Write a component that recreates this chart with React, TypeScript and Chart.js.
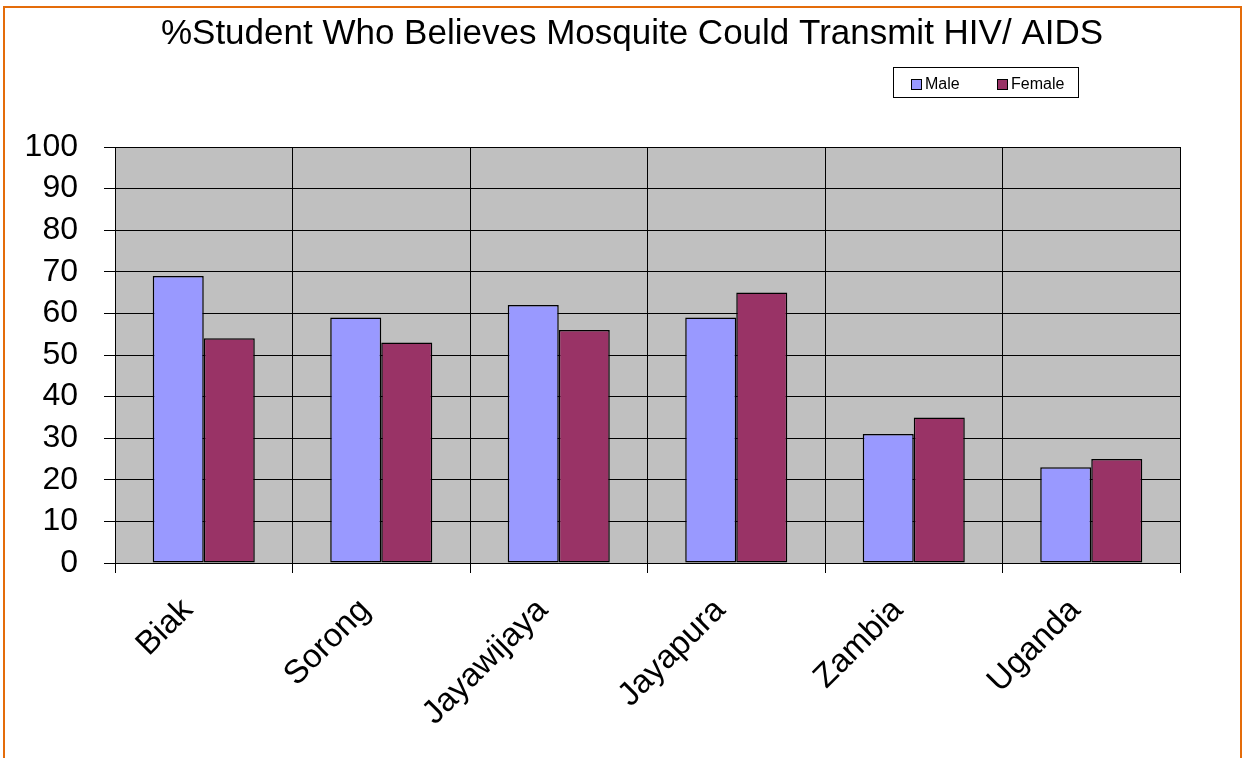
import React, { useEffect, useRef } from "react";
import { Chart, registerables } from "chart.js";

Chart.register(...registerables);

const titleText = "%Student Who Believes Mosquite Could Transmit HIV/ AIDS";
const categories = ["Biak", "Sorong", "Jayawijaya", "Jayapura", "Zambia", "Uganda"];
const maleValues = [69, 59, 62, 59, 31, 23];
const femaleValues = [54, 53, 56, 65, 35, 25];
const seriesNames = ["Male", "Female"];
const seriesColors = ["#9999FF", "#993366"];

const FONT = "'Liberation Sans', Arial, Helvetica, sans-serif";

const plotBg = {
  id: "plotBg",
  beforeDraw(chart: any) {
    const { ctx, chartArea } = chart;
    ctx.save();
    ctx.fillStyle = "#C0C0C0";
    ctx.fillRect(chartArea.left, chartArea.top, chartArea.right - chartArea.left, chartArea.bottom - chartArea.top);
    ctx.restore();
  },
};

const pageTitle = {
  id: "pageTitle",
  afterDraw(chart: any) {
    const { ctx } = chart;
    ctx.save();
    ctx.font = `35px ${FONT}`;
    ctx.fillStyle = "#000";
    ctx.textAlign = "center";
    ctx.textBaseline = "middle";
    ctx.fillText(titleText, 632, 34);
    ctx.restore();
  },
};

const boxLegend = {
  id: "boxLegend",
  afterDraw(chart: any) {
    const { ctx } = chart;
    const x = 893.5;
    const y = 67.5;
    const w = 185;
    const h = 30;
    ctx.save();
    ctx.fillStyle = "#FFFFFF";
    ctx.fillRect(x, y, w, h);
    ctx.strokeStyle = "#000000";
    ctx.lineWidth = 1;
    ctx.strokeRect(x, y, w, h);
    ctx.font = `16px ${FONT}`;
    ctx.textBaseline = "middle";
    const starts = [911, 997];
    chart.data.datasets.forEach((ds: any, i: number) => {
      const sx = starts[i];
      ctx.fillStyle = ds.backgroundColor;
      ctx.fillRect(sx + 0.5, 79.5, 10, 10);
      ctx.strokeStyle = "#000";
      ctx.strokeRect(sx + 0.5, 79.5, 10, 10);
      ctx.fillStyle = "#000";
      ctx.fillText(ds.label, sx + 14, 85);
    });
    ctx.restore();
  },
};

export default function App() {
  const ref = useRef<HTMLCanvasElement | null>(null);

  useEffect(() => {
    if (!ref.current) return;
    const chart = new Chart(ref.current, {
      type: "bar",
      data: {
        labels: categories,
        datasets: [
          {
            label: seriesNames[0],
            data: maleValues,
            backgroundColor: seriesColors[0],
            borderColor: "#000000",
            borderWidth: 1.5,
            borderSkipped: false,
          },
          {
            label: seriesNames[1],
            data: femaleValues,
            backgroundColor: seriesColors[1],
            borderColor: "#000000",
            borderWidth: 1.5,
            borderSkipped: false,
          },
        ],
      },
      options: {
        animation: false,
        responsive: false,
        maintainAspectRatio: false,
        layout: { padding: { left: 0, right: 62, top: 147, bottom: 0 } },
        datasets: { bar: { categoryPercentage: 0.575, barPercentage: 1.0 } },
        plugins: {
          legend: { display: false },
          tooltip: { enabled: false },
          title: { display: false },
        },
        scales: {
          x: {
            offset: true,
            grid: {
              offset: true,
              display: true,
              color: "#000",
              lineWidth: 1,
              drawOnChartArea: true,
              tickLength: 10,
            },
            border: { display: true, color: "#000", width: 1 },
            ticks: {
              color: "#000",
              font: { family: FONT, size: 33 },
              minRotation: 45,
              maxRotation: 45,
              padding: 18,
              labelOffset: -16,
            },
            afterFit(axis: any) {
              axis.height = 195;
            },
          },
          y: {
            min: 0,
            max: 100,
            ticks: {
              stepSize: 10,
              color: "#000",
              font: { family: FONT, size: 32 },
              padding: 26,
            },
            grid: { color: "#000", lineWidth: 1, tickLength: 11 },
            border: { display: true, color: "#000", width: 1 },
            afterFit(axis: any) {
              axis.width = 115;
            },
          },
        },
      },
      plugins: [plotBg, pageTitle, boxLegend],
    });
    return () => chart.destroy();
  }, []);

  return (
    <div style={{ position: "fixed", left: 0, top: 0, width: 1242, height: 758, background: "#fff", overflow: "hidden" }}>
      <canvas ref={ref} width={1242} height={758} style={{ position: "absolute", left: 0, top: 0, width: 1242, height: 758 }} />
      <div
        style={{
          position: "absolute",
          left: 3,
          top: 6,
          width: 1235,
          height: 800,
          borderLeft: "2px solid #E46C0A",
          borderTop: "2px solid #E46C0A",
          borderRight: "2px solid #E46C0A",
          pointerEvents: "none",
        }}
      />
    </div>
  );
}
